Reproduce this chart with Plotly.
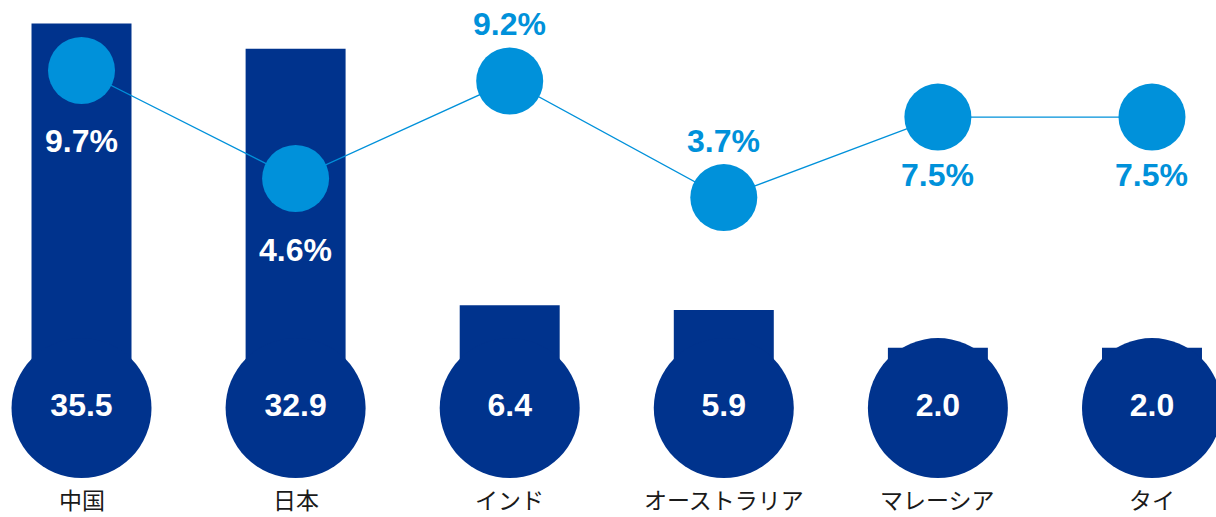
import plotly.graph_objects as go

# Share (bars, value printed in the disc at each bar's foot)
countries = ["中国", "日本", "インド", "オーストラリア", "マレーシア", "タイ"]
share = [35.5, 32.9, 6.4, 5.9, 2.0, 2.0]
# Growth rate (%) shown by the connected light-blue dots
growth = [9.7, 4.6, 9.2, 3.7, 7.5, 7.5]

# Where each growth label sits relative to its dot, and its colour
label_side = ["below", "below", "above", "above", "below", "below"]
label_on_bar = [True, True, False, False, False, False]

DARK = "#00338D"
LIGHT = "#0091DA"
NUM_FONT = "Liberation Sans, Arial, sans-serif"
JP_FONT = "Noto Sans CJK JP, sans-serif"

x = list(range(len(countries)))
DISC_Y = -4.23  # vertical position of the value discs on the bar axis

fig = go.Figure()

fig.add_trace(go.Bar(
    x=x, y=share, width=0.467, yaxis="y",
    marker=dict(color=DARK, line=dict(width=0)),
    hoverinfo="skip",
))

fig.add_trace(go.Scatter(
    x=x, y=[DISC_Y] * len(x), yaxis="y",
    mode="markers+text",
    marker=dict(size=140, color=DARK, line=dict(width=0)),
    text=[f"{v:.1f}" for v in share],
    textposition="middle center",
    textfont=dict(family=NUM_FONT, size=32, color="white", weight="bold"),
    hoverinfo="skip",
))

fig.add_trace(go.Scatter(
    x=x, y=growth, yaxis="y2",
    mode="lines+markers",
    line=dict(color=LIGHT, width=1.3),
    marker=dict(size=67, color=LIGHT, line=dict(width=0)),
    hoverinfo="skip",
))

annotations = []
for xi, g, side, on_bar in zip(x, growth, label_side, label_on_bar):
    if side == "above":
        shift = 57
    else:
        shift = -71 if on_bar else -58
    annotations.append(dict(
        x=xi, y=g, xref="x", yref="y2", yshift=shift,
        text=f"{g:.1f}%", showarrow=False,
        xanchor="center", yanchor="middle",
        font=dict(family=NUM_FONT, size=32, weight="bold",
                  color="white" if on_bar else LIGHT),
    ))

for xi, name in zip(x, countries):
    annotations.append(dict(
        x=xi, y=0, xref="x", yref="paper",
        text=name, showarrow=False,
        xanchor="center", yanchor="bottom", borderpad=0,
        font=dict(family=JP_FONT, size=23, color="#1a1a1a"),
    ))

fig.update_layout(
    width=1216, height=517,
    margin=dict(l=0, r=0, t=0, b=0),
    paper_bgcolor="white", plot_bgcolor="white",
    showlegend=False,
    xaxis=dict(range=[-0.3807, 5.299], visible=False, fixedrange=True),
    yaxis=dict(range=[-15.49, 37.94], visible=False, fixedrange=True),
    yaxis2=dict(range=[-11.373, 13.025], overlaying="y", visible=False,
                fixedrange=True),
    annotations=annotations,
)

fig.write_html("out.html", config={"displayModeBar": False})
